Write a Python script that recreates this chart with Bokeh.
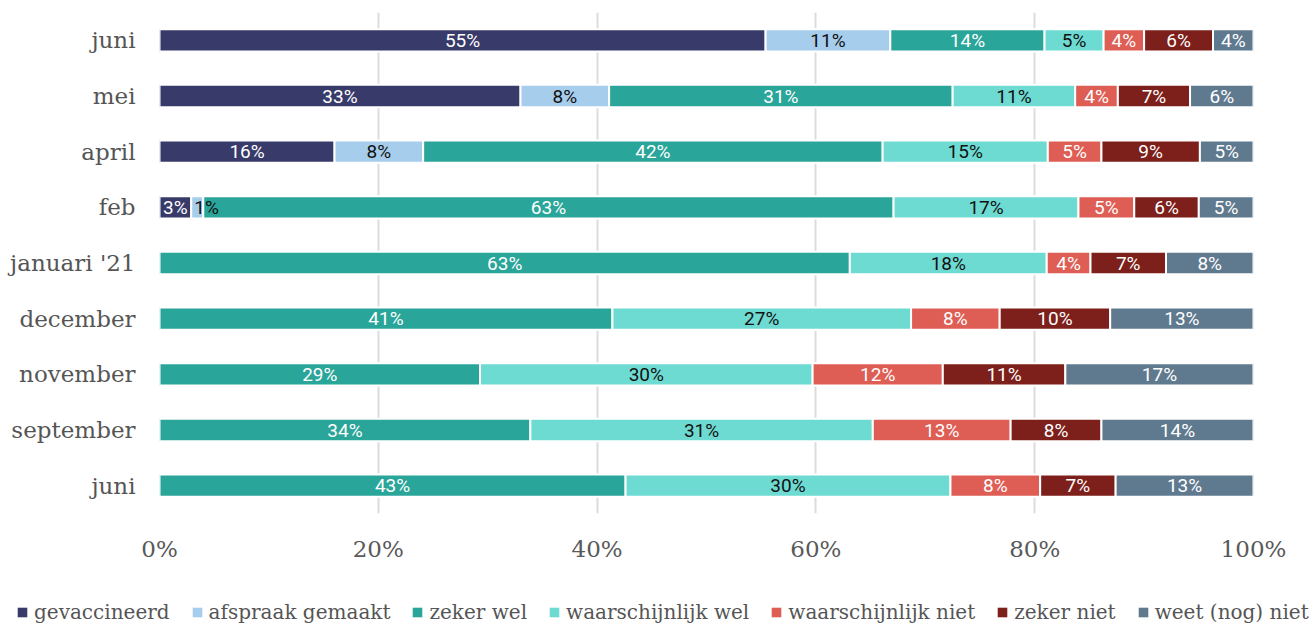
from bokeh.plotting import figure
from bokeh.models import ColumnDataSource, Range1d, FixedTicker, Legend, LegendItem
from bokeh.core.properties import value
from bokeh.embed import file_html
from bokeh.resources import INLINE

# rows, top to bottom
rows = ["juni", "mei", "april", "feb", "januari '21", "december", "november", "september", "juni"]
series = ["gevaccineerd", "afspraak gemaakt", "zeker wel", "waarschijnlijk wel",
          "waarschijnlijk niet", "zeker niet", "weet (nog) niet"]
gevaccineerd = [55.4, 33.0, 16.0, 2.9, 0, 0, 0, 0, 0]
afspraak_gemaakt = [11.4, 8.1, 8.1, 1.1, 0, 0, 0, 0, 0]
zeker_wel = [14.1, 31.4, 42.0, 63.1, 63.1, 41.4, 29.3, 33.9, 42.6]
waarschijnlijk_wel = [5.4, 11.2, 15.1, 16.9, 18.0, 27.3, 30.4, 31.3, 29.7]
waarschijnlijk_niet = [3.7, 3.9, 4.9, 5.1, 4.0, 8.1, 11.9, 12.6, 8.2]
zeker_niet = [6.3, 6.6, 9.0, 5.9, 6.9, 10.1, 11.2, 8.3, 6.9]
weet_nog_niet = [3.7, 5.8, 4.9, 5.0, 8.0, 13.1, 17.2, 13.9, 12.6]
x_ticks = [0, 20, 40, 60, 80, 100]

values = [gevaccineerd, afspraak_gemaakt, zeker_wel, waarschijnlijk_wel,
          waarschijnlijk_niet, zeker_niet, weet_nog_niet]
colors = ["#383b69", "#a7cdec", "#2aa59a", "#6ddbd2", "#de5e55", "#7d1f1a", "#5f7a8f"]
label_colors = ["white", "#111111", "white", "#111111", "white", "white", "white"]

SERIF = "DejaVu Serif"
n = len(rows)
ypos = [n - 1 - i for i in range(n)]

p = figure(width=1313, height=580, output_backend="svg", toolbar_location=None,
           x_range=Range1d(0, 100), y_range=Range1d(-0.5, n - 0.5),
           min_border_left=159, min_border_right=60, min_border_top=12, min_border_bottom=67)
p.outline_line_color = None
p.background_fill_color = "white"
p.border_fill_color = "white"

# grid
p.ygrid.visible = False
p.xgrid.ticker = FixedTicker(ticks=x_ticks)
p.xgrid.grid_line_color = "#dcdcdc"
p.xgrid.grid_line_width = 2

# axes
p.xaxis.ticker = FixedTicker(ticks=x_ticks)
p.xaxis.major_label_overrides = {t: f"{t}%" for t in x_ticks}
p.xaxis.axis_line_color = None
p.xaxis.major_tick_line_color = None
p.xaxis.minor_tick_line_color = None
p.xaxis.major_tick_out = 0
p.xaxis.major_label_standoff = 22
p.xaxis.major_label_text_font = SERIF
p.xaxis.major_label_text_font_size = "23px"
p.xaxis.major_label_text_color = "#595959"

p.yaxis.ticker = FixedTicker(ticks=ypos)
p.yaxis.major_label_overrides = {y: r for y, r in zip(ypos, rows)}
p.yaxis.axis_line_color = None
p.yaxis.major_tick_line_color = None
p.yaxis.minor_tick_line_color = None
p.yaxis.major_tick_out = 0
p.yaxis.major_label_standoff = 24
p.yaxis.major_label_text_font = SERIF
p.yaxis.major_label_text_font_size = "23px"
p.yaxis.major_label_text_color = "#555555"

# legend strip: a second figure whose ranges show none of the bars,
# so only the legend (built from the same series) is visible
pl = figure(width=1313, height=45, output_backend="svg", toolbar_location=None,
            x_range=Range1d(1000, 1001), y_range=Range1d(1000, 1001),
            x_axis_location=None, y_axis_location=None,
            min_border_left=0, min_border_right=0, min_border_top=0, min_border_bottom=0)
pl.grid.visible = False
pl.outline_line_color = None
pl.background_fill_color = "white"
pl.border_fill_color = "white"

cum = [0.0] * n
legend_items = []
label_sources = []
for s, vals, col, lcol in zip(series, values, colors, label_colors):
    left = list(cum)
    right = [c + v for c, v in zip(cum, vals)]
    cum = right
    keep = [i for i in range(n) if vals[i] > 0]
    src = ColumnDataSource(dict(
        y=[ypos[i] for i in keep],
        left=[left[i] for i in keep],
        right=[right[i] for i in keep],
    ))
    p.hbar(y="y", left="left", right="right", height=0.4, source=src,
           fill_color=col, line_color="white", line_width=2)
    lr = pl.hbar(y="y", left="left", right="right", height=0.4, source=src,
                 fill_color=col, line_color=None)
    legend_items.append(LegendItem(label=s, renderers=[lr]))
    lx, la, lo, lt = [], [], [], []
    for i in keep:
        v = vals[i]
        if v < 2:
            lx.append(left[i]); la.append("left"); lo.append(3)
        else:
            lx.append((left[i] + right[i]) / 2); la.append("center"); lo.append(0)
        lt.append(f"{round(v)}%")
    label_sources.append((ColumnDataSource(dict(x=lx, y=[ypos[i] for i in keep],
                                                t=lt, a=la, o=lo)), lcol))

# labels drawn after all bars
for lsrc, lcol in label_sources:
    p.text(x="x", y="y", text="t", source=lsrc, text_align="a", x_offset="o",
           text_baseline="middle", text_font=value("Roboto"), text_font_size="19px",
           text_color=lcol)

legend = Legend(items=legend_items, orientation="horizontal", location=(16, 1),
                glyph_width=12, glyph_height=12, label_standoff=6, spacing=21,
                padding=0, margin=0, border_line_color=None, background_fill_alpha=0,
                label_text_font=SERIF, label_text_font_size="20px",
                label_text_color="#555555", label_height=20)
pl.add_layout(legend, "center")

open("out.html", "w").write(file_html([p, pl], INLINE))
